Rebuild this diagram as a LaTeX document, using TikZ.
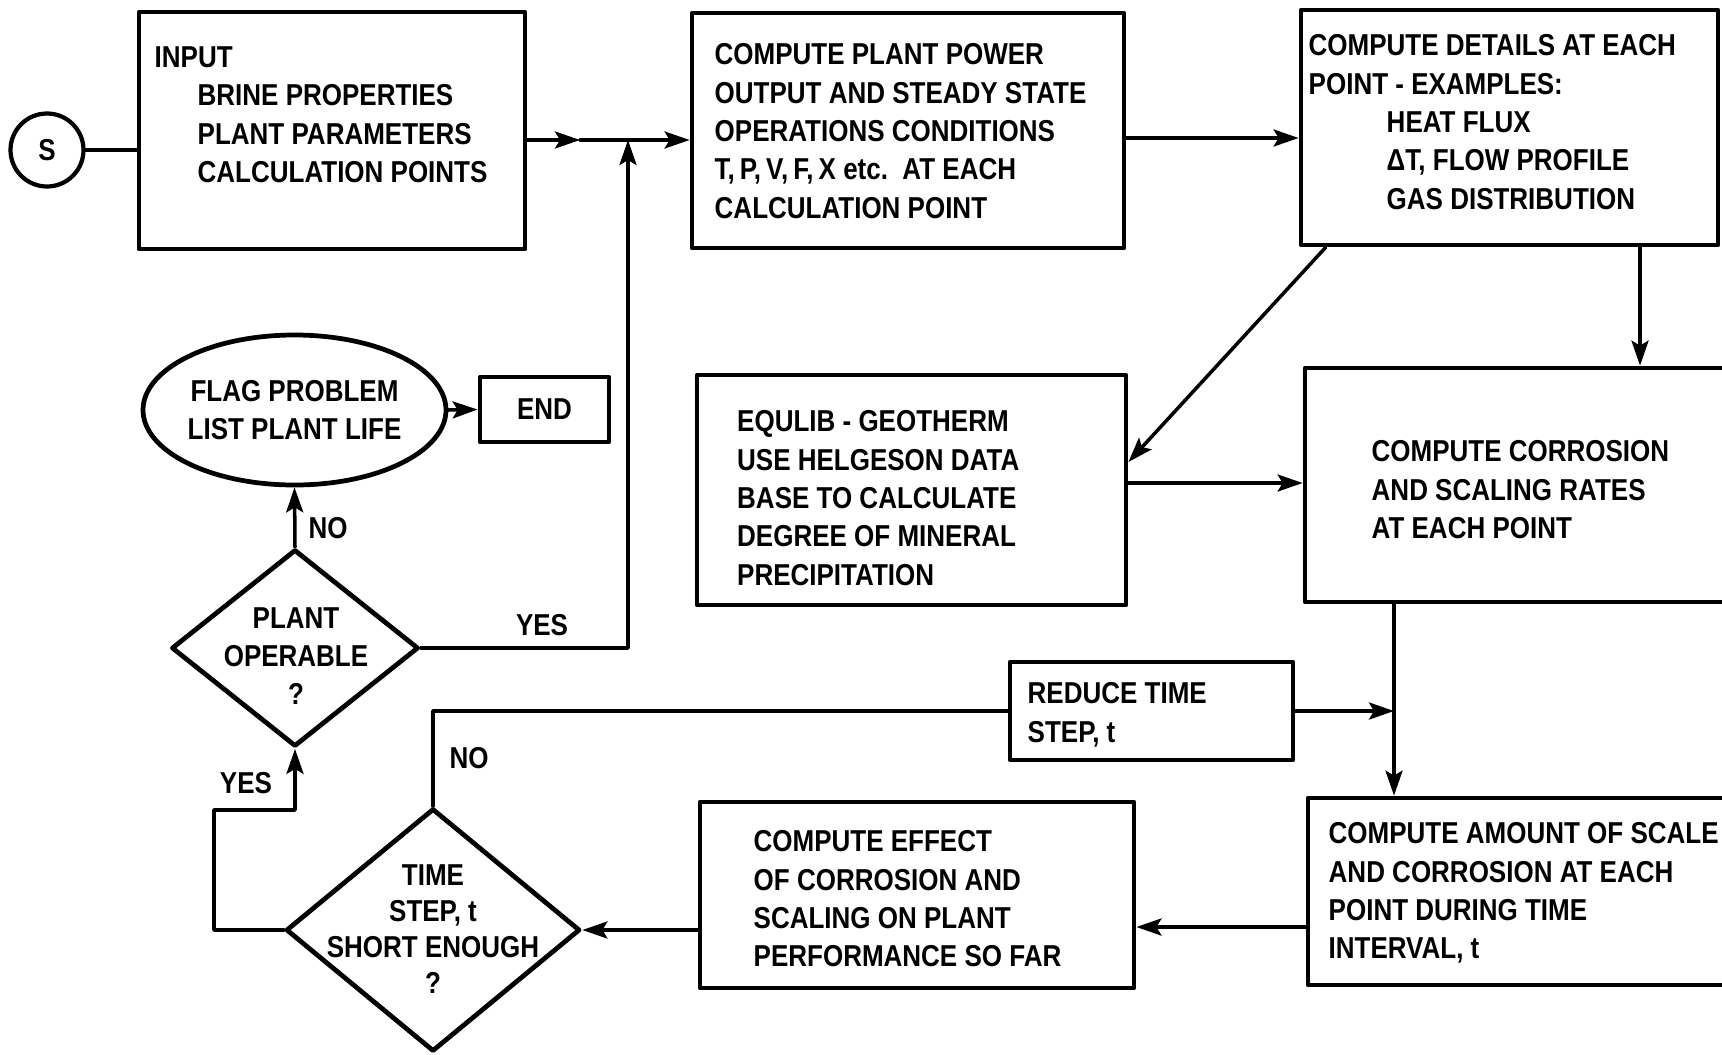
\documentclass[tikz,border=0pt]{standalone}
\usepackage{fontspec}
\setmainfont[FakeStretch=0.86]{Liberation Sans}
\usetikzlibrary{arrows.meta,shapes.geometric,calc}

\begin{document}
\begin{tikzpicture}[x=1mm,y=-1mm,>={Stealth[length=2.5mm,width=1.7mm,inset=0.5mm]},line cap=round,line join=round,
  font=\bfseries\fontsize{8.6}{10.9}\selectfont,
  box/.style={draw,line width=1.35pt,inner sep=0pt},
  txt/.style={align=left,inner sep=0pt,anchor=north west},
  decision/.style={draw,diamond,line width=1.35pt,inner sep=0pt},
  flow/.style={line width=1pt}]
\useasboundingbox (0,0) rectangle (172.2,105.4);
\clip (0,0) rectangle (172.2,105.4);
\node[draw,circle,line width=1.2pt,minimum size=7.3mm,inner sep=0pt] (start) at (4.7,15.0) {S};
\node[box,minimum width=38.6mm,minimum height=23.7mm] (input) at (33.2,13.05) {};
\node[box,minimum width=43.2mm,minimum height=23.5mm] (power) at (90.8,13.05) {};
\node[box,minimum width=41.7mm,minimum height=23.5mm] (detail) at (150.95,12.75) {};
\node[box,minimum width=42.9mm,minimum height=23mm] (equlib) at (91.15,49.0) {};
\node[box,minimum width=46.5mm,minimum height=23.4mm] (rates) at (153.75,48.5) {};
\node[box,minimum width=28.3mm,minimum height=9.8mm] (reduce) at (115.15,71.1) {};
\node[box,minimum width=46.2mm,minimum height=18.7mm] (amount) at (153.9,89.15) {};
\node[box,minimum width=43.4mm,minimum height=18.6mm] (effect) at (91.7,89.5) {};
\node[box,minimum width=12.9mm,minimum height=6.5mm] (end) at (54.45,40.95) {END};
\node[draw,ellipse,line width=1.35pt,minimum width=30.3mm,minimum height=15mm,inner sep=0pt,align=center] (flag) at (29.45,41.0) {FLAG PROBLEM\\LIST PLANT LIFE};
\node[decision,minimum width=24.7mm,minimum height=19.7mm] (oper) at (29.5,64.8) {};
\node[decision,minimum width=29.4mm,minimum height=24.3mm] (tstep) at (43.3,93.0) {};
\node[txt] (input-txt) at (15.4,4.6) {INPUT\\\hspace*{4.3mm}BRINE PROPERTIES\\\hspace*{4.3mm}PLANT PARAMETERS\\\hspace*{4.3mm}CALCULATION POINTS};
\node[txt] (power-txt) at (71.4,4.3) {COMPUTE PLANT POWER\\OUTPUT AND STEADY STATE\\OPERATIONS CONDITIONS\\T,\,P,\,V,\,F,\,X etc.\ \ AT EACH\\CALCULATION POINT};
\node[txt] (detail-txt) at (130.8,3.4) {COMPUTE DETAILS AT EACH\\POINT - EXAMPLES:\\\hspace*{7.8mm}HEAT FLUX\\\hspace*{7.8mm}ΔT, FLOW PROFILE\\\hspace*{7.8mm}GAS DISTRIBUTION};
\node[txt] (equlib-txt) at (73.65,41.0) {EQULIB - GEOTHERM\\USE HELGESON DATA\\BASE TO CALCULATE\\DEGREE OF MINERAL\\PRECIPITATION};
\node[txt] (rates-txt) at (137.1,44.0) {COMPUTE CORROSION\\AND SCALING RATES\\AT EACH POINT};
\node[txt] (reduce-txt) at (102.7,68.2) {REDUCE TIME\\STEP, t};
\node[txt] (amount-txt) at (132.8,82.2) {COMPUTE AMOUNT OF SCALE\\AND CORROSION AT EACH\\POINT DURING TIME\\INTERVAL, t};
\node[txt] (effect-txt) at (75.3,83.0) {COMPUTE EFFECT\\OF CORROSION AND\\SCALING ON PLANT\\PERFORMANCE SO FAR};
\node[align=center,inner sep=0pt,font=\bfseries\fontsize{8.6}{10.7}\selectfont] (oper-txt) at (29.6,65.6) {PLANT\\OPERABLE\\?};
\node[align=center,inner sep=0pt,font=\bfseries\fontsize{8.6}{10.3}\selectfont] (tstep-txt) at (43.3,92.9) {TIME\\STEP, t\\SHORT ENOUGH\\?};
\node (yes-oper) at (54.2,62.5) {YES};
\node (no-oper) at (32.8,52.8) {NO};
\node (yes-tstep) at (24.6,78.3) {YES};
\node (no-tstep) at (46.9,75.8) {NO};
\coordinate (join) at (62.8,14.0);
\coordinate (mid) at (58.0,14.0);
\coordinate (across) at (0,13.8);
\coordinate (down) at (164.0,0);
\coordinate (drop) at (139.4,0);
\coordinate (side) at (0,48.3);
\coordinate (back) at (0,92.7);
\coordinate (yes-turn) at (21.4,81.0);
\draw[flow] (start.east) -- (start.east -| input.west);
\draw[flow,->] (mid -| input.east) -- (mid);
\draw[flow,->] (mid) -- (mid -| power.west);
\draw[flow,->] (oper.east) -| (join);
\draw[flow,->] (oper.north) -- (flag.south);
\draw[flow,->] (flag.east) -- (end.west);
\draw[flow,->] (across -| power.east) -- (across -| detail.west);
\draw[flow,->] (down |- detail.south) -- (down |- rates.north);
\draw[flow,->] ($(detail.south west)+(2.7,0)$) -- ($(equlib.east)+(0,-2.8)$);
\draw[flow,->] (side -| equlib.east) -- (side -| rates.west);
\draw[flow,->] (drop |- rates.south) -- (drop |- amount.north);
\draw[flow,->] (reduce.east) -- (reduce.east -| drop);
\draw[flow,->] (back -| amount.west) -- (back -| effect.east);
\draw[flow,->] (tstep.east -| effect.west) -- (tstep.east);
\draw[flow] (tstep.north) |- (reduce.west);
\draw[flow,->] (tstep.west) -| (yes-turn) -| (oper.south);
\end{tikzpicture}
\end{document}
